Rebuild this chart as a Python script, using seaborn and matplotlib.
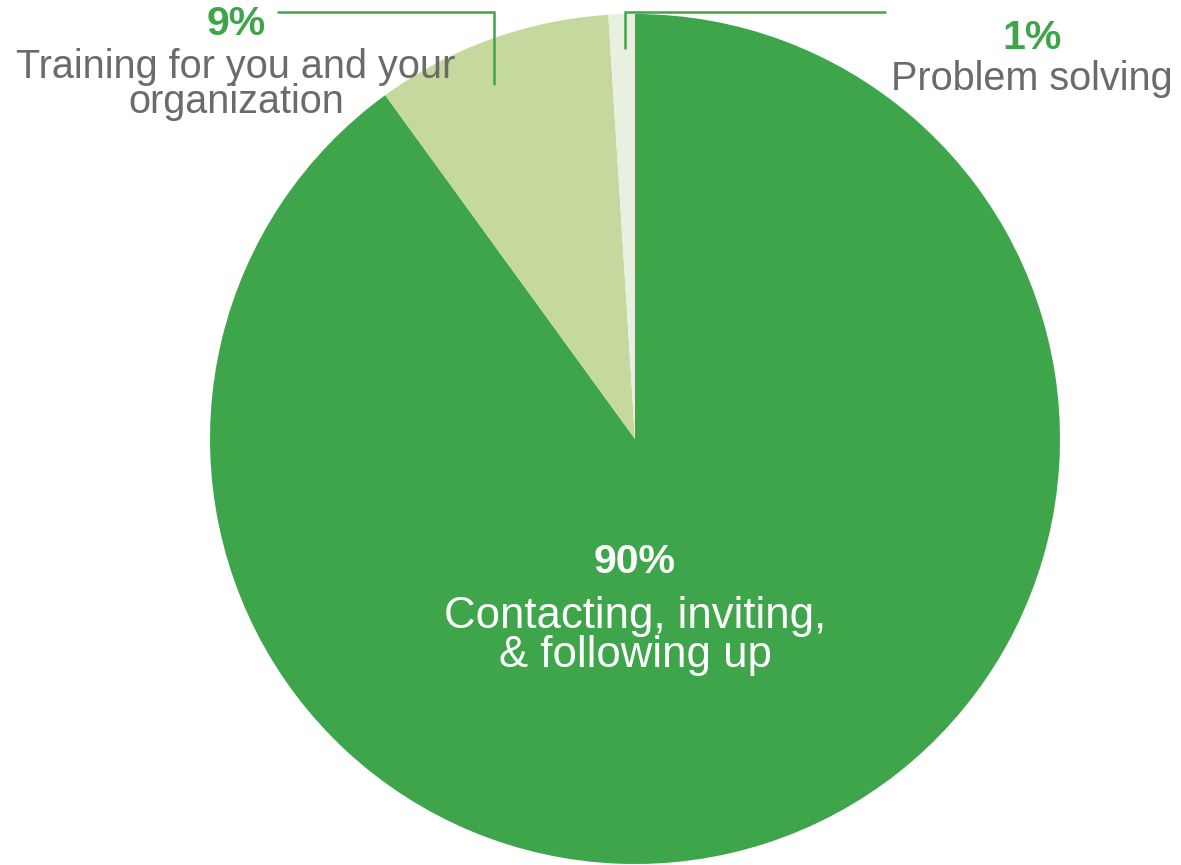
import matplotlib
matplotlib.use("Agg")
import matplotlib.pyplot as plt
import seaborn as sns

# Data
categories = ["Contacting, inviting,\n& following up", "Training for you and your\norganization", "Problem solving"]
values = [90, 9, 1]
pct_labels = ["90%", "9%", "1%"]

sns.set_theme(style="white")
plt.rcParams["font.family"] = ["Liberation Sans", "DejaVu Sans"]

GREEN = "#3EA54A"
colors = [GREEN, "#C5D89E", "#E9F0DF"]
GREY = "#6B6B6B"

W, H = 1181, 865
fig = plt.figure(figsize=(W / 100, H / 100), dpi=100)
ax = fig.add_axes([0, 0, 1, 1])

def Y(py):
    return H - py

cx, cy, r = 635, 439, 425
ax.pie(values, colors=colors, startangle=90, counterclock=False,
       center=(cx, Y(cy)), radius=r, frame=True,
       wedgeprops=dict(linewidth=0))
ax.set_xlim(0, W)
ax.set_ylim(0, H)
ax.set_aspect("auto")
ax.axis("off")

fs_side = 28.5
fs_center = 31.5
fs_pct = 29.5

# Center label (90%)
ax.text(cx, Y(562), pct_labels[0], ha="center", va="center", color="white",
        fontsize=fs_pct, fontweight="bold")
for i, line in enumerate(categories[0].split("\n")):
    ax.text(cx, Y(628 + 39 * i), line, ha="center", va="baseline", color="white",
            fontsize=fs_center)

# 9% label
ax.text(236, Y(24), pct_labels[1], ha="center", va="center", color=GREEN,
        fontsize=fs_pct, fontweight="bold")
for i, line in enumerate(categories[1].split("\n")):
    ax.text(236, Y(78 + 35 * i), line, ha="center", va="baseline", color=GREY,
            fontsize=fs_side)

# 1% label
ax.text(1032, Y(38), pct_labels[2], ha="center", va="center", color=GREEN,
        fontsize=fs_pct, fontweight="bold")
ax.text(1032, Y(90), categories[2], ha="center", va="baseline", color=GREY,
        fontsize=fs_side)

# Leader lines
ax.plot([278, 494, 494], [Y(12), Y(12), Y(84)], color=GREEN, lw=1.8,
        solid_joinstyle="miter")
ax.plot([885, 625, 625], [Y(12), Y(12), Y(48)], color=GREEN, lw=1.8,
        solid_joinstyle="miter")

fig.savefig("out.png", dpi=100, facecolor="white")
